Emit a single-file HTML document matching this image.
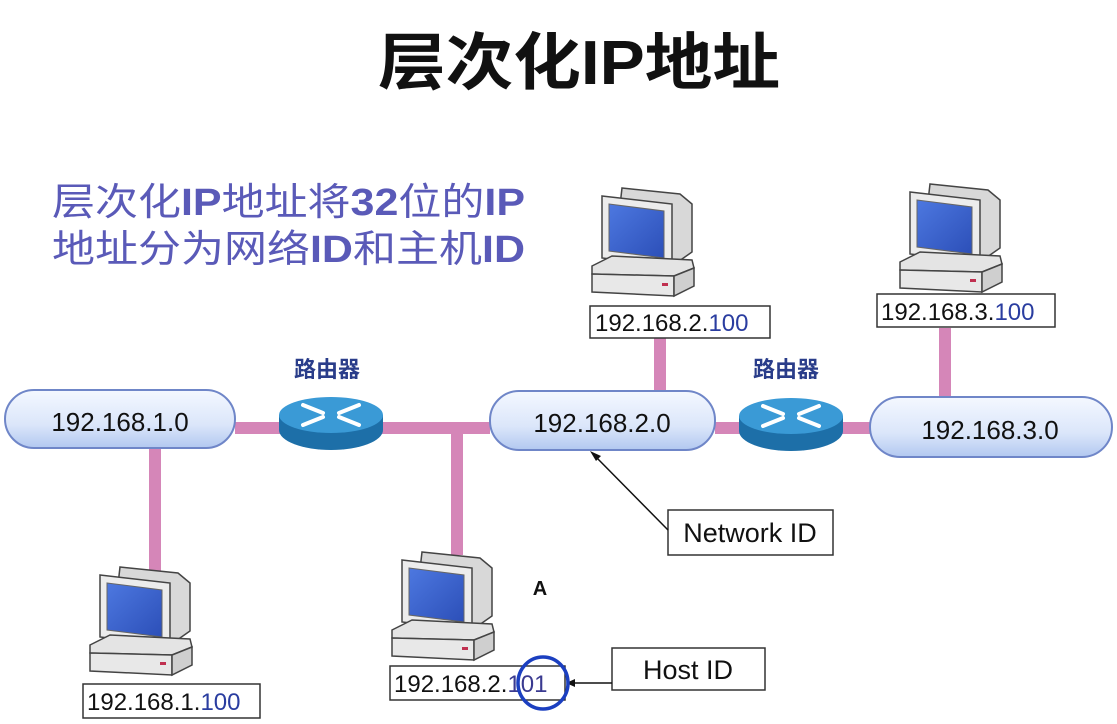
<!DOCTYPE html>
<html><head><meta charset="utf-8"><style>
html,body{margin:0;padding:0;background:#fff;}
svg{display:block;}
text{font-family:"Liberation Sans","Noto Sans CJK SC",sans-serif;}
</style></head><body>
<svg width="1117" height="724" viewBox="0 0 1117 724" xmlns="http://www.w3.org/2000/svg">
<defs>
<linearGradient id="pill" x1="0" y1="0" x2="0" y2="1">
<stop offset="0" stop-color="#f4f8ff"/><stop offset="0.6" stop-color="#dbe6fa"/><stop offset="1" stop-color="#b2c8f0"/>
</linearGradient>
<linearGradient id="scr" x1="0" y1="0" x2="1" y2="1">
<stop offset="0" stop-color="#4d78e0"/><stop offset="1" stop-color="#2c4fb8"/>
</linearGradient>
<g id="pc">
<polygon points="30,2 88,8 100,18 100,66 80,80 22,72" fill="#d8d8d8" stroke="#444" stroke-width="1.5"/>
<polygon points="10,10 80,18 80,80 10,72" fill="#ececec" stroke="#444" stroke-width="1.5"/>
<polygon points="17,18 72,25 72,72 17,65" fill="url(#scr)" stroke="#666"/>
<polygon points="0,80 20,70 100,74 102,82 82,90 0,88" fill="#e4e4e4" stroke="#444" stroke-width="1.5"/>
<polygon points="0,88 82,90 82,110 0,106" fill="#e8e8e8" stroke="#444" stroke-width="1.5"/>
<polygon points="82,90 102,82 102,100 82,110" fill="#cfcfcf" stroke="#444" stroke-width="1.5"/>
<rect x="70" y="97" width="6" height="3" fill="#c03050"/>
</g>
<g id="router">
<ellipse cx="52" cy="33" rx="52" ry="20" fill="#1d6fa8"/>
<rect x="0" y="18" width="104" height="15" fill="#1d6fa8"/>
<ellipse cx="52" cy="18" rx="52" ry="18" fill="#3a9ad6"/>
<g stroke="#fff" stroke-width="4" stroke-linecap="round">
<line x1="24" y1="8" x2="44" y2="16"/>
<line x1="80" y1="8" x2="60" y2="16"/>
<line x1="24" y1="28" x2="44" y2="20"/>
<line x1="80" y1="28" x2="60" y2="20"/>
</g>
</g>
</defs>

<text x="378" y="84" font-size="62" font-weight="bold" fill="#111" textLength="402" lengthAdjust="spacingAndGlyphs">层次化IP地址</text>
<text x="52" y="215" font-size="38" fill="#5a5ab8" textLength="473" lengthAdjust="spacingAndGlyphs">层次化<tspan font-weight="bold">IP</tspan>地址将<tspan font-weight="bold">32</tspan>位的<tspan font-weight="bold">IP</tspan></text>
<text x="52" y="262" font-size="38" fill="#5a5ab8" textLength="473" lengthAdjust="spacingAndGlyphs">地址分为网络<tspan font-weight="bold">ID</tspan>和主机<tspan font-weight="bold">ID</tspan></text>

<g stroke="#d586b8" stroke-width="12">
<line x1="235" y1="428" x2="490" y2="428"/>
<line x1="715" y1="428" x2="870" y2="428"/>
<line x1="155" y1="445" x2="155" y2="580"/>
<line x1="457" y1="428" x2="457" y2="555"/>
<line x1="660" y1="335" x2="660" y2="392"/>
<line x1="945" y1="328" x2="945" y2="398"/>
</g>

<rect x="5" y="390" width="230" height="58" rx="29" fill="url(#pill)" stroke="#6f86c8" stroke-width="2"/>
<text x="120" y="431" font-size="26" text-anchor="middle" fill="#111">192.168.1.0</text>
<rect x="490" y="391" width="225" height="59" rx="29" fill="url(#pill)" stroke="#6f86c8" stroke-width="2"/>
<text x="602" y="432" font-size="26" text-anchor="middle" fill="#111">192.168.2.0</text>
<rect x="870" y="397" width="242" height="60" rx="30" fill="url(#pill)" stroke="#6f86c8" stroke-width="2"/>
<text x="990" y="439" font-size="26" text-anchor="middle" fill="#111">192.168.3.0</text>

<use href="#router" x="279" y="397"/>
<use href="#router" x="739" y="398"/>
<text x="327" y="377" font-size="22" font-weight="bold" text-anchor="middle" fill="#2a3d8a">路由器</text>
<text x="786" y="377" font-size="22" font-weight="bold" text-anchor="middle" fill="#2a3d8a">路由器</text>

<use href="#pc" x="592" y="186"/>
<use href="#pc" x="900" y="182"/>
<use href="#pc" x="90" y="565"/>
<use href="#pc" x="392" y="550"/>

<g fill="#fff" stroke="#333" stroke-width="1.5">
<rect x="590" y="306" width="180" height="32"/>
<rect x="877" y="294" width="178" height="33"/>
<rect x="83" y="684" width="177" height="34"/>
<rect x="390" y="666" width="175" height="34"/>
<rect x="668" y="510" width="165" height="45"/>
<rect x="612" y="648" width="153" height="42"/>
</g>
<g font-size="24" fill="#111">
<text x="595" y="331">192.168.2.<tspan fill="#2a3da0">100</tspan></text>
<text x="881" y="320">192.168.3.<tspan fill="#2a3da0">100</tspan></text>
<text x="87" y="710">192.168.1.<tspan fill="#2a3da0">100</tspan></text>
<text x="394" y="692">192.168.2.<tspan fill="#3a3a90">101</tspan></text>
<text x="750" y="542" font-size="27" text-anchor="middle">Network ID</text>
<text x="688" y="679" font-size="27" text-anchor="middle">Host ID</text>
<text x="540" y="595" font-size="20" font-weight="bold" text-anchor="middle">A</text>
</g>

<line x1="668" y1="530" x2="595" y2="456" stroke="#111" stroke-width="1.5"/>
<polygon points="590,451 601,456 596,461" fill="#111"/>
<line x1="612" y1="683" x2="572" y2="683" stroke="#111" stroke-width="1.5"/>
<polygon points="566,683 575,679 575,687" fill="#111"/>
<ellipse cx="543" cy="683" rx="25" ry="26" fill="none" stroke="#1b3fc0" stroke-width="3.5"/>
</svg>
</body></html>
